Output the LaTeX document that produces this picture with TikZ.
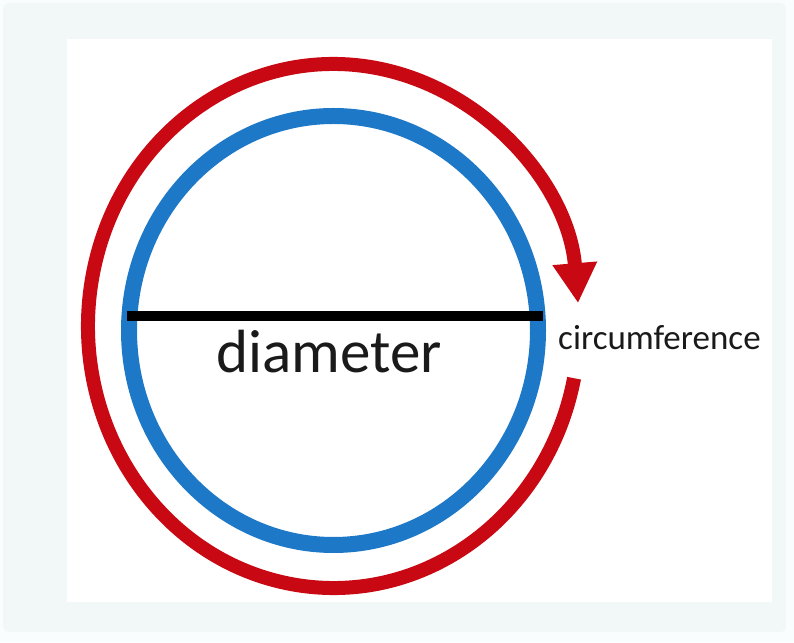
\documentclass[tikz,border=0pt]{standalone}
\usepackage{fontspec}
\setmainfont{Carlito}
\usetikzlibrary{arrows.meta,calc}
\definecolor{bgouter}{HTML}{FAFDFD}
\definecolor{bgpanel}{HTML}{F2F8F8}
\definecolor{circblue}{RGB}{30,120,200}
\definecolor{circred}{RGB}{200,8,18}
\definecolor{txt}{HTML}{1A1A1A}
\tikzset{
  bluering/.style={draw=circblue, line width=16pt},
  redarrow/.style={draw=circred, line width=14pt, -{Triangle[length=40pt,width=42pt]}},
  diamline/.style={draw=black, line width=10pt},
  bigtext/.style={inner sep=0pt, text=txt, font=\fontsize{61}{61}\selectfont},
  smalltext/.style={inner sep=0pt, text=txt, font=\fontsize{35}{35}\selectfont},
}
\begin{document}
\begin{tikzpicture}[x=1pt,y=1pt]
  \useasboundingbox (0,0) rectangle (794,642);
  \fill[bgouter] (0,0) rectangle (794,642);
  \fill[bgpanel, rounded corners=6pt] (3,10) rectangle (786,639);
  \fill[white] (67,40) rectangle (772,603);
  % blue circle
  \coordinate (bc) at (333.5,311.5);
  \draw[bluering] (bc) ellipse [x radius=204.5pt, y radius=214.5pt];
  % red circumference arrow
  \coordinate (rc) at (333.5,316);
  \coordinate (rstart) at ($(rc)+(-11.5:245.5pt and 262pt)$);
  \draw[redarrow] (rstart) arc [start angle=-11.5, end angle=-355, x radius=245.5pt, y radius=262pt];
  % diameter
  \coordinate (dl) at (127,325.5);
  \coordinate (dr) at (543,325.5);
  \draw[diamline] (dl) -- (dr);
  \node[bigtext, anchor=base] (diam) at (329,269) {diameter};
  \node[smalltext, anchor=base west] (circ) at (558,292) {circumference};
\end{tikzpicture}
\end{document}
